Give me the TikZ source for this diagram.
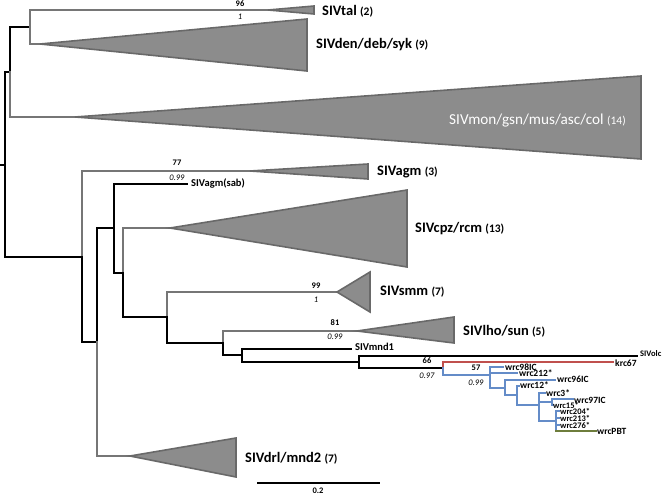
\documentclass[tikz,border=0pt]{standalone}
\usepackage{fontspec}
\setmainfont{Carlito}
\definecolor{grisbr}{RGB}{118,118,118}
\definecolor{grisbord}{RGB}{105,105,105}
\definecolor{grisfond}{RGB}{140,140,140}
\definecolor{rougekrc}{RGB}{192,80,77}
\definecolor{bleuwrc}{RGB}{100,140,200}
\definecolor{vertpbt}{RGB}{110,125,60}
\newcommand{\nb}[1]{{\fontsize{11.5}{11.5}\selectfont #1}}
\begin{document}
\begin{tikzpicture}[x=1pt,y=-1pt]
\tikzset{brnoir/.style={draw=black, line width=1.6pt, line cap=rect},
  brgris/.style={draw=grisbr, line width=1.6pt, line cap=rect},
  brrouge/.style={draw=rougekrc, line width=2.4pt, line cap=rect},
  brbleu/.style={draw=bleuwrc, line width=2.4pt, line cap=rect},
  brvert/.style={draw=vertpbt, line width=2.4pt, line cap=rect},
  clade/.style={draw=grisbord, fill=grisfond, line width=1.6pt, line join=miter},
  nom/.style={anchor=west, inner sep=0pt, font=\fontsize{14.5}{14.5}\selectfont\bfseries},
  feuille/.style={anchor=west, inner sep=0pt, font=\fontsize{10.5}{10.5}\selectfont\bfseries},
  wrc/.style={anchor=west, inner sep=0pt, font=\fontsize{9.5}{9.5}\selectfont\bfseries},
  wrcpetit/.style={anchor=west, inner sep=0pt, font=\fontsize{8.5}{8.5}\selectfont\bfseries},
  bootlab/.style={inner sep=0pt, font=\fontsize{8.5}{8.5}\selectfont\bfseries},
  postlab/.style={inner sep=0pt, font=\fontsize{8.5}{8.5}\selectfont\itshape}}
\useasboundingbox (0,0) rectangle (664,495);
% noeuds internes
\coordinate (r0) at (0,165);
\coordinate (r) at (5,165);
\coordinate (n10) at (10,72);
\coordinate (n30) at (30,27);
\coordinate (n82) at (82,257);
\coordinate (n97) at (97,342);
\coordinate (n114) at (114,228);
\coordinate (n123) at (123,273);
\coordinate (n167) at (167,317);
\coordinate (n223) at (223,343);
\coordinate (n242) at (242,355);
\coordinate (n359) at (359,362);
\coordinate (n443) at (443,368);
\coordinate (wA) at (490,375);
\coordinate (wB) at (505,388);
\coordinate (wC) at (517,395);
\coordinate (wD) at (539,405);
\coordinate (wE) at (552,402);
\coordinate (wF) at (556,421);
% sommets des triangles et feuilles
\coordinate (tal) at (268,10);
\coordinate (den) at (40,44);
\coordinate (mon) at (75,117);
\coordinate (agm) at (250,171);
\coordinate (cpz) at (170,228);
\coordinate (smm) at (337,292);
\coordinate (lho) at (357,331);
\coordinate (drl) at (130,456);
\coordinate (sab) at (187,184);
\coordinate (mnd1) at (351,349);
\coordinate (olc) at (637,356);
\coordinate (krc) at (613,362);
\coordinate (w98) at (503,367);
\coordinate (w212) at (517,373);
\coordinate (w96) at (555,380);
\coordinate (w12) at (519,386);
\coordinate (w3) at (545,393);
\coordinate (w97) at (573,399);
\coordinate (w15) at (553,405);
\coordinate (w204) at (559,411);
\coordinate (w213) at (559,418);
\coordinate (w276) at (559,425);
\coordinate (pbt) at (596,431);
% branches
\draw[brnoir] (r0) -- (r);
\draw[brnoir] (r) |- (n10);
\draw[brnoir] (r) |- (n82);
\draw[brnoir] (n10) |- (n30);
\draw[brgris] (n10) |- (mon);
\draw[brgris] (n30) |- (tal);
\draw[brgris] (n30) |- (den);
\draw[brgris] (n82) |- (agm);
\draw[brnoir] (n82) |- (n97);
\draw[brnoir] (n97) |- (n114);
\draw[brgris] (n97) |- (drl);
\draw[brnoir] (n114) |- (sab);
\draw[brnoir] (n114) |- (n123);
\draw[brgris] (n123) |- (cpz);
\draw[brnoir] (n123) |- (n167);
\draw[brgris] (n167) |- (smm);
\draw[brnoir] (n167) |- (n223);
\draw[brgris] (n223) |- (lho);
\draw[brnoir] (n223) |- (n242);
\draw[brnoir] (n242) |- (mnd1);
\draw[brnoir] (n242) |- (n359);
\draw[brnoir] (n359) |- (olc);
\draw[brnoir] (n359) |- (n443);
\draw[brrouge] (n443) |- (krc);
\draw[brbleu] (n443) |- (wA);
\draw[brbleu] (wA) |- (w98);
\draw[brbleu] (wA) |- (w212);
\draw[brbleu] (wA) |- (wB);
\draw[brbleu] (wB) |- (w96);
\draw[brbleu] (wB) |- (wC);
\draw[brbleu] (wC) |- (w12);
\draw[brbleu] (wC) |- (wD);
\draw[brbleu] (wD) |- (w3);
\draw[brbleu] (wD) |- (wE);
\draw[brbleu] (wD) |- (wF);
\draw[brbleu] (wE) |- (w97);
\draw[brbleu] (wE) |- (w15);
\draw[brbleu] (wF) |- (w204);
\draw[brbleu] (wF) |- (w213);
\draw[brbleu] (wF) |- (w276);
\draw[brbleu] (wF) |- (556,431);
\draw[brvert] (556,431) -- (pbt);
% clades
\draw[clade] (tal) -- (314,6) -- (314,14) -- cycle;
\draw[clade] (den) -- (307,19) -- (307,71) -- cycle;
\draw[clade] (mon) -- (641,76) -- (641,159) -- cycle;
\draw[clade] (agm) -- (368,164) -- (368,179) -- cycle;
\draw[clade] (cpz) -- (407,190) -- (407,267) -- cycle;
\draw[clade] (smm) -- (370,272) -- (370,312) -- cycle;
\draw[clade] (lho) -- (454,317) -- (454,343) -- cycle;
\draw[clade] (drl) -- (236,438) -- (236,477) -- cycle;
% noms des clades
\node[nom] (Ltal) at (322,11) {SIVtal \nb{(2)}};
\node[nom] (Lden) at (316,45) {SIVden/deb/syk \nb{(9)}};
\node[nom, text=white, font=\fontsize{15.2}{15.2}\selectfont] (Lmon) at (449,121) {SIVmon/gsn/mus/asc/col \nb{(14)}};
\node[nom] (Lagm) at (377,172) {SIVagm \nb{(3)}};
\node[nom] (Lcpz) at (415,229) {SIVcpz/rcm \nb{(13)}};
\node[nom] (Lsmm) at (380,292) {SIVsmm \nb{(7)}};
\node[nom] (Llho) at (463,331) {SIVlho/sun \nb{(5)}};
\node[nom] (Ldrl) at (245,458) {SIVdrl/mnd2 \nb{(7)}};
% feuilles
\node[feuille] (Lsab) at (191,183) {SIVagm(sab)};
\node[feuille] (Lmnd1) at (355,347) {SIVmnd1};
\node[feuille, font=\fontsize{8.5}{8.5}\selectfont\bfseries] (Lolc) at (640,354) {SIVolc};
\node[wrc] (Lkrc) at (615,363) {krc67};
\node[wrc] (L98) at (505,367) {wrc98IC};
\node[wrc] (L212) at (519,373) {wrc212*};
\node[wrc] (L96) at (557,379) {wrc96IC};
\node[wrc] (L12) at (520,385) {wrc12*};
\node[wrc] (L3) at (546,393) {wrc3*};
\node[wrc] (L97) at (574,400) {wrc97IC};
\node[wrcpetit] (L15) at (553,405.5) {wrc15*};
\node[wrcpetit] (L204) at (560,411.5) {wrc204*};
\node[wrcpetit] (L213) at (560,418.5) {wrc213*};
\node[wrcpetit] (L276) at (560,425) {wrc276*};
\node[wrc] (Lpbt) at (597,431) {wrcPBT};
% supports
\node[bootlab] (b96) at (240,3.5) {96};
\node[postlab] (p1a) at (240,17) {1};
\node[bootlab] (b77) at (177,163) {77};
\node[postlab] (p99a) at (177,178) {0.99};
\node[bootlab] (b99) at (316,286) {99};
\node[postlab] (p1b) at (316,300) {1};
\node[bootlab] (b81) at (335,323) {81};
\node[postlab] (p99b) at (335,337) {0.99};
\node[bootlab] (b66) at (427,361) {66};
\node[postlab] (p97) at (427,376) {0.97};
\node[bootlab] (b57) at (476,368) {57};
\node[postlab] (p99c) at (476,383) {0.99};
% echelle
\coordinate (e1) at (257,483);
\coordinate (e2) at (380,483);
\draw[brnoir, line cap=butt] (e1) -- (e2);
\node[bootlab] (Le) at (318,490.5) {0.2};
\end{tikzpicture}
\end{document}
